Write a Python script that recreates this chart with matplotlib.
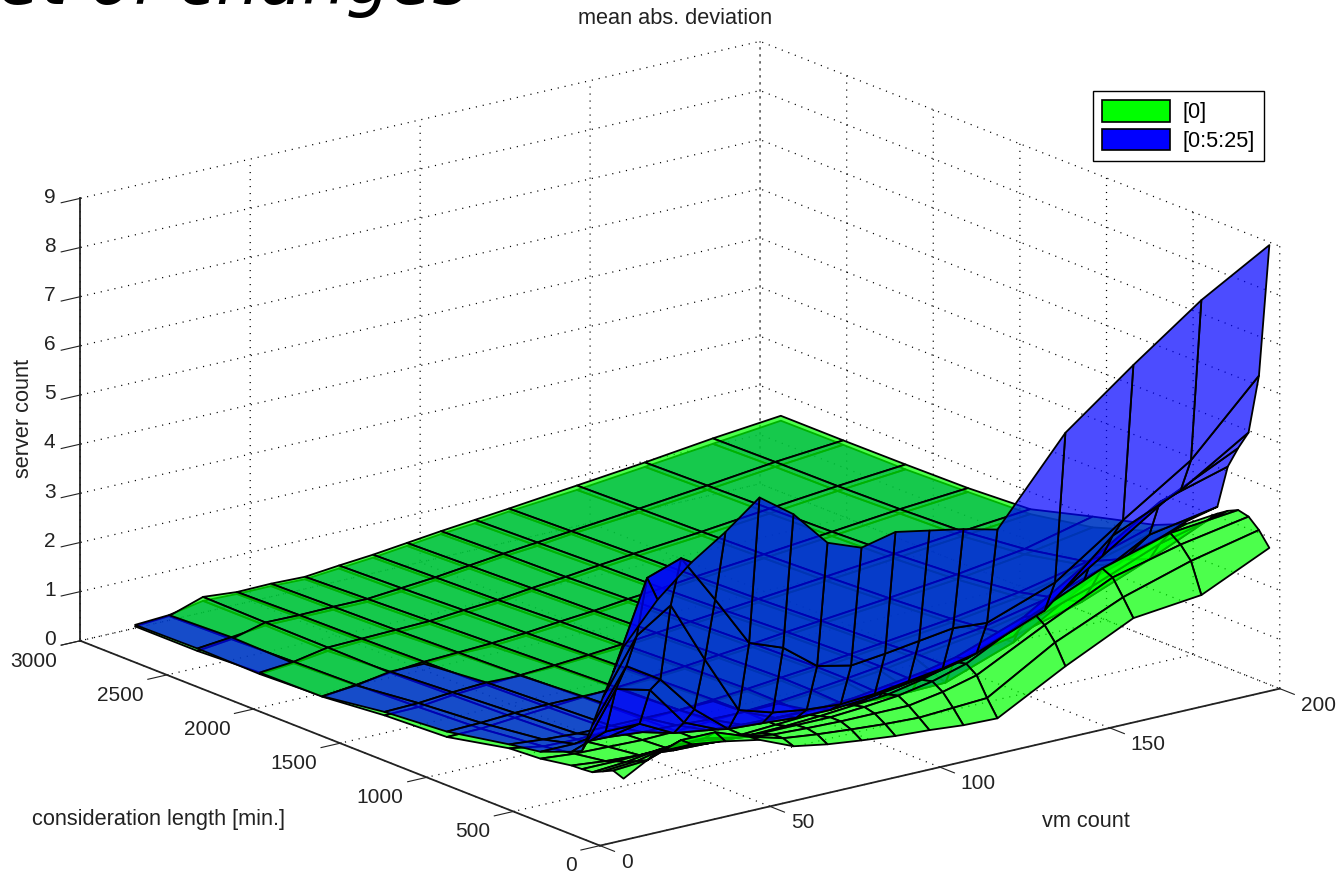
import matplotlib
matplotlib.use('Agg')
import matplotlib.pyplot as plt
import numpy as np
from matplotlib.patches import Patch
from mpl_toolkits.mplot3d.art3d import Poly3DCollection

W, H = 1338, 872

# grid of the two surfaces
vm_count = [10, 20, 30, 40, 50, 60, 70, 80, 90, 100, 110, 120, 140, 160, 180, 200]
consideration = [60, 120, 180, 240, 300, 360, 540, 720, 1080, 1440, 1800, 2160, 2520, 2880]

# [0]
dev_green = [
    [1.12, 1.50, 1.50, 1.40, 1.27, 0.98, 0.86, 0.78, 0.71, 0.67, 0.61, 0.59, 1.33, 1.99, 2.14, 2.78],
    [1.20, 1.25, 1.50, 1.50, 1.25, 1.06, 0.98, 0.92, 0.87, 0.84, 0.88, 0.92, 1.73, 2.33, 2.75, 3.06],
    [1.10, 1.15, 1.30, 1.30, 1.15, 1.05, 1.02, 1.00, 1.00, 1.00, 1.12, 1.30, 2.00, 2.65, 3.00, 3.25],
    [1.00, 1.05, 1.15, 1.15, 1.05, 1.00, 1.00, 1.00, 1.05, 1.12, 1.25, 1.45, 2.15, 2.75, 3.15, 3.30],
    [0.98, 0.98, 1.00, 0.95, 0.90, 0.88, 0.90, 0.94, 1.00, 1.06, 1.20, 1.40, 1.85, 2.30, 2.85, 3.20],
    [0.97, 0.90, 0.86, 0.80, 0.78, 0.80, 0.84, 0.88, 0.94, 1.02, 1.12, 1.25, 1.52, 1.90, 2.45, 3.06],
    [0.86, 0.80, 0.78, 0.76, 0.78, 0.82, 0.86, 0.90, 0.97, 1.05, 1.14, 1.25, 1.45, 1.75, 2.20, 2.60],
    [0.82, 0.70, 0.68, 0.72, 0.76, 0.80, 0.85, 0.91, 0.98, 1.05, 1.13, 1.21, 1.38, 1.60, 1.90, 2.33],
    [0.55, 0.56, 0.62, 0.67, 0.72, 0.76, 0.81, 0.87, 0.94, 1.01, 1.09, 1.16, 1.30, 1.46, 1.66, 2.00],
    [0.49, 0.50, 0.58, 0.63, 0.67, 0.71, 0.76, 0.82, 0.89, 0.96, 1.03, 1.10, 1.24, 1.38, 1.52, 1.65],
    [0.37, 0.45, 0.54, 0.60, 0.63, 0.66, 0.71, 0.78, 0.84, 0.92, 0.98, 1.06, 1.19, 1.33, 1.47, 1.58],
    [0.36, 0.42, 0.55, 0.57, 0.59, 0.61, 0.67, 0.72, 0.80, 0.87, 0.95, 1.02, 1.15, 1.30, 1.44, 1.56],
    [0.30, 0.38, 0.56, 0.55, 0.56, 0.56, 0.62, 0.68, 0.76, 0.84, 0.91, 0.98, 1.12, 1.27, 1.43, 1.55],
    [0.30, 0.35, 0.58, 0.52, 0.53, 0.51, 0.58, 0.64, 0.72, 0.80, 0.87, 0.94, 1.09, 1.24, 1.41, 1.55],
]

# [0:5:25]
dev_blue = [
    [3.80, 4.60, 5.20, 5.66, 6.20, 5.70, 4.96, 4.70, 4.86, 4.73, 4.60, 4.43, 6.08, 7.14, 8.14, 8.94],
    [3.20, 4.96, 5.20, 4.20, 3.16, 2.90, 2.37, 2.22, 2.30, 2.40, 2.50, 2.45, 2.95, 3.90, 4.80, 6.20],
    [2.60, 3.70, 4.16, 2.90, 1.71, 1.50, 1.40, 1.35, 1.40, 1.50, 1.60, 1.75, 2.30, 3.50, 4.10, 4.96],
    [1.96, 3.00, 2.57, 1.80, 1.24, 1.20, 1.15, 1.15, 1.20, 1.30, 1.40, 1.55, 2.10, 3.00, 3.90, 4.56],
    [1.35, 2.45, 2.27, 1.45, 1.15, 1.10, 1.10, 1.10, 1.15, 1.25, 1.35, 1.50, 2.00, 2.85, 3.70, 4.10],
    [1.25, 1.50, 1.50, 1.15, 1.05, 1.00, 0.98, 0.98, 0.92, 0.88, 0.88, 0.90, 1.40, 2.20, 2.95, 3.20],
    [1.00, 1.00, 0.98, 0.92, 0.90, 0.86, 0.85, 0.86, 0.91, 0.97, 1.05, 1.16, 1.36, 1.65, 2.10, 2.65],
    [0.90, 0.84, 0.80, 0.80, 0.80, 0.80, 0.82, 0.86, 0.92, 0.98, 1.06, 1.14, 1.30, 1.50, 1.82, 2.20],
    [0.66, 0.68, 0.72, 0.74, 0.74, 0.74, 0.77, 0.82, 0.88, 0.94, 1.02, 1.09, 1.22, 1.36, 1.55, 1.78],
    [0.56, 0.58, 0.64, 0.68, 0.66, 0.68, 0.72, 0.76, 0.83, 0.90, 0.96, 1.03, 1.15, 1.28, 1.42, 1.55],
    [0.38, 0.44, 0.56, 0.56, 0.60, 0.60, 0.65, 0.71, 0.78, 0.85, 0.92, 0.99, 1.11, 1.24, 1.38, 1.50],
    [0.33, 0.39, 0.48, 0.52, 0.53, 0.55, 0.60, 0.66, 0.74, 0.80, 0.88, 0.95, 1.07, 1.20, 1.34, 1.46],
    [0.35, 0.42, 0.50, 0.50, 0.50, 0.50, 0.55, 0.62, 0.70, 0.78, 0.84, 0.92, 1.04, 1.18, 1.33, 1.46],
    [0.33, 0.37, 0.50, 0.48, 0.48, 0.46, 0.52, 0.58, 0.66, 0.74, 0.80, 0.88, 1.00, 1.15, 1.30, 1.45],
]

x_ticks = [0, 50, 100, 150, 200]
y_ticks = [0, 500, 1000, 1500, 2000, 2500, 3000]
z_ticks = list(range(10))


def quads(z_rows):
    # one polygon per grid cell
    z = np.array(z_rows)
    res = []
    for i in range(len(consideration) - 1):
        for j in range(len(vm_count) - 1):
            res.append([(vm_count[j], consideration[i], z[i, j]),
                        (vm_count[j + 1], consideration[i], z[i, j + 1]),
                        (vm_count[j + 1], consideration[i + 1], z[i + 1, j + 1]),
                        (vm_count[j], consideration[i + 1], z[i + 1, j])])
    return res


def align_labels(axis, pad, ha='center', va='center'):
    axis.set_tick_params(pad=pad)
    for tick in axis.get_major_ticks():
        tick.label1.set_ha(ha)
        tick.label1.set_va(va)


plt.rcParams['font.family'] = ['Liberation Sans', 'DejaVu Sans']
plt.rcParams['grid.linestyle'] = (0, (0.9, 4.7))
plt.rcParams['grid.color'] = 'k'
plt.rcParams['grid.linewidth'] = 0.9
plt.rcParams['axes3d.grid'] = True

fig = plt.figure(figsize=(W / 100, H / 100), dpi=100)
S = 1258
ax = fig.add_axes([34 / W, -217.5 / H, S / W, S / H], projection='3d', proj_type='ortho')
ax.view_init(elev=17.56, azim=-127.43)
ax.set_box_aspect((856, 855, 464))
ax.patch.set_alpha(0)

ax.set_xlim(0, 200, view_margin=0)
ax.set_ylim(0, 3000, view_margin=0)
ax.set_zlim(0, 9, view_margin=0)
ax.set_xticks(x_ticks)
ax.set_yticks(y_ticks)
ax.set_zticks(z_ticks)
ax.tick_params(labelsize=15, colors='#222222', width=1.0)

for axis in (ax.xaxis, ax.yaxis, ax.zaxis):
    axis.set_pane_color((1, 1, 1, 0))
    axis.pane.set_edgecolor((0, 0, 0, 0))
    # these point out of the box for this view
    axis._axinfo['tick']['inward_factor'] = 0.35
    axis._axinfo['tick']['outward_factor'] = 0.02
    axis._axinfo['axisline']['linewidth'] = 1.3
    axis.line.set_linewidth(1.3)
    axis.line.set_color('#222222')

align_labels(ax.xaxis, 11, ha='left', va='bottom')
align_labels(ax.yaxis, 8, ha='right', va='center')
align_labels(ax.zaxis, 4)

green_faces = quads(dev_green)
blue_faces = quads(dev_blue)
colors = [(0, 1, 0, 0.7)] * len(green_faces) + [(0, 0, 1, 0.7)] * len(blue_faces)
surf = Poly3DCollection(green_faces + blue_faces, facecolors=colors, edgecolors='k',
                        linewidths=1.3, zsort='average')
ax.add_collection3d(surf)

fig.text(675 / W, 1 - 19 / H, 'mean abs. deviation', ha='center', va='center', fontsize=15.7, color='#222222')
fig.text(24 / W, 1 - 418 / H, 'server count', ha='center', va='center', rotation=90, fontsize=15.7, color='#222222')
fig.text(158 / W, 1 - 819 / H, 'consideration length [min.]', ha='center', va='center', fontsize=15.7, color='#222222')
fig.text(1086 / W, 1 - 821 / H, 'vm count', ha='center', va='center', fontsize=15.7, color='#222222')
fig.text(-2 / W, 1 - 4 / H, 'et of changes', ha='left', va='baseline', fontsize=49.8, style='italic',
         family='DejaVu Sans', color='k')

handles = [Patch(facecolor=(0, 1, 0), edgecolor='k', linewidth=1.2),
           Patch(facecolor=(0, 0, 1), edgecolor='k', linewidth=1.2)]
fig.legend(handles, ['[0]', '[0:5:25]'], loc='upper left', bbox_to_anchor=(1093 / W, 1 - 91 / H),
           fancybox=False, edgecolor='k', framealpha=1, fontsize=15.7, handlelength=3.1,
           handleheight=1.15, borderaxespad=0, handletextpad=0.6, labelspacing=0.25, borderpad=0.42)

fig.savefig('out.png', dpi=100)
